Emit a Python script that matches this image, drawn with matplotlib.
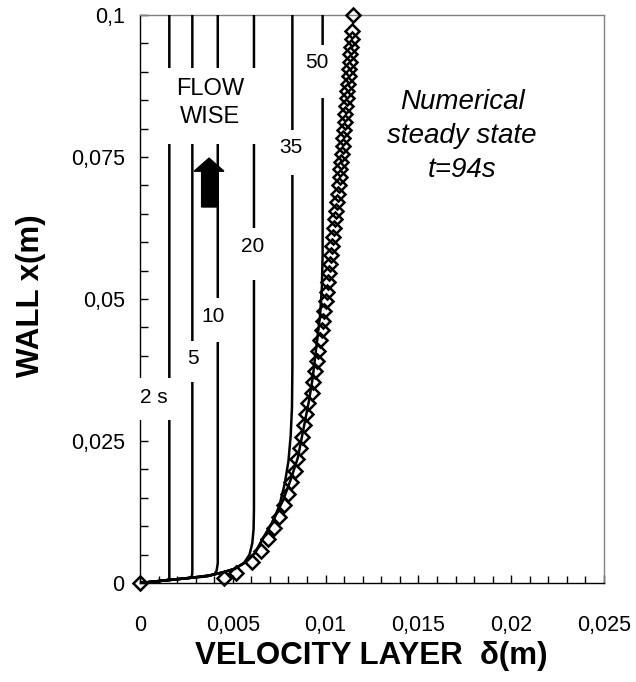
import matplotlib
matplotlib.use("Agg")
import matplotlib.pyplot as plt
from matplotlib.patches import Rectangle
from matplotlib.ticker import MultipleLocator, FixedLocator

plt.rcParams['font.family'] = ['Liberation Sans', 'DejaVu Sans']

# ---- data (delta in m, x along wall in m) ----
t2_delta = [0, 0.0013, 0.00152, 0.00158, 0.00158]
t2_x = [0, 0.00043, 0.0006, 0.0009, 0.1]

t5_delta = [0, 0.0026, 0.00274, 0.0028, 0.00282, 0.00282]
t5_x = [0, 0.00087, 0.001, 0.0013, 0.002, 0.1]

t10_delta = [0, 0.0027, 0.0036, 0.0040, 0.00413, 0.00419, 0.00419]
t10_x = [0, 0.0009, 0.00115, 0.0015, 0.0022, 0.0035, 0.1]

t20_delta = [0, 0.0027, 0.0037, 0.0045, 0.0051, 0.0056, 0.0059, 0.00605, 0.00612, 0.00614, 0.00614]
t20_x = [0, 0.0009, 0.0013, 0.0019, 0.0025, 0.0035, 0.0050, 0.0070, 0.0095, 0.013, 0.1]

t35_delta = [0, 0.0027, 0.0037, 0.0045, 0.0051, 0.0057, 0.0062, 0.0066, 0.0071,
             0.0075, 0.0078, 0.0080, 0.00812, 0.00819, 0.00821, 0.00821]
t35_x = [0, 0.0009, 0.0013, 0.0019, 0.0025, 0.0037, 0.0053, 0.0077, 0.0105,
         0.0135, 0.0175, 0.0215, 0.026, 0.031, 0.038, 0.1]

t50_delta = [0, 0.0027, 0.0037, 0.0045, 0.0051, 0.0057, 0.0062, 0.0066, 0.0071, 0.0077,
             0.0081, 0.0085, 0.0088, 0.0091, 0.0093, 0.0095, 0.0097, 0.0098, 0.00984, 0.00984]
t50_x = [0, 0.0009, 0.0013, 0.0019, 0.0025, 0.0037, 0.0053, 0.0077, 0.0105, 0.0145,
         0.018, 0.022, 0.027, 0.032, 0.036, 0.0415, 0.047, 0.052, 0.058, 0.1]

steady_delta = [0, 0.00454, 0.00517, 0.00602, 0.00652, 0.00688, 0.00722, 0.00751, 0.00776,
                0.00797, 0.00815, 0.00834, 0.00848, 0.00860, 0.00871, 0.00882, 0.00894,
                0.00907, 0.009241, 0.009343, 0.009441, 0.009531, 0.009617, 0.009700,
                0.009781, 0.009854, 0.009925, 0.009996, 0.010063, 0.010129, 0.010189,
                0.010248, 0.010306, 0.010362, 0.010418, 0.010469, 0.010518, 0.010567,
                0.010615, 0.010662, 0.010708, 0.010750, 0.010792, 0.010834, 0.010875,
                0.010914, 0.010954, 0.010993, 0.011031, 0.011069, 0.011106, 0.011140,
                0.011174, 0.011207, 0.011240, 0.011272, 0.011304, 0.011336, 0.011367,
                0.011399, 0.011432, 0.011500]
steady_x = [0, 0.00083, 0.00181, 0.00375, 0.00569, 0.00769, 0.00963, 0.01167, 0.01368,
            0.01567, 0.01773, 0.01972, 0.02178, 0.02371, 0.02576, 0.02782, 0.02975,
            0.03164, 0.0335, 0.0354, 0.0373, 0.0391, 0.0409, 0.0427, 0.0445, 0.0462,
            0.0479, 0.0496, 0.0513, 0.0530, 0.0546, 0.0562, 0.0578, 0.0594, 0.0610,
            0.0625, 0.0640, 0.0655, 0.0670, 0.0685, 0.0700, 0.0714, 0.0728, 0.0742,
            0.0756, 0.0770, 0.0784, 0.0798, 0.0812, 0.0826, 0.0840, 0.0853, 0.0866,
            0.0879, 0.0892, 0.0905, 0.0918, 0.0931, 0.0944, 0.0957, 0.0971, 0.1000]

time_labels = ['2 s', '5', '10', '20', '35', '50']
xtick_vals = [0, 0.005, 0.01, 0.015, 0.02, 0.025]
xtick_labels = ['0', '0,005', '0,01', '0,015', '0,02', '0,025']
ytick_vals = [0, 0.025, 0.05, 0.075, 0.1]
ytick_labels = ['0', '0,025', '0,05', '0,075', '0,1']

W, H = 636, 682
fig = plt.figure(figsize=(W / 100, H / 100), dpi=100)
ax = fig.add_axes([140 / W, 1 - 583 / H, 464 / W, 568 / H])
ax.set_xlim(0, 0.025)
ax.set_ylim(0, 0.1)

lw = 1.8
for d, x in [(t2_delta, t2_x), (t5_delta, t5_x), (t10_delta, t10_x),
             (t20_delta, t20_x), (t35_delta, t35_x), (t50_delta, t50_x)]:
    ax.plot(d, x, color='black', lw=lw, zorder=3, solid_joinstyle='round')

ax.plot(steady_delta, steady_x, linestyle='none', marker='D', markersize=7.5,
        markerfacecolor='none', markeredgecolor='black', markeredgewidth=1.8,
        zorder=4, clip_on=False)

# white label boxes (interrupt lines) - data coords
boxes = [
    (-0.00032, 0.0287, 0.00215, 0.0074),
    (0.00226, 0.0354, 0.00119, 0.0072),
    (0.00323, 0.0424, 0.00162, 0.0078),
    (0.00539, 0.0533, 0.00151, 0.0092),
    (0.00744, 0.0718, 0.00150, 0.0080),
    (0.00900, 0.0854, 0.00140, 0.0093),
    (0.00097, 0.0773, 0.00571, 0.0134),
]
for bx, by, bw, bh in boxes:
    ax.add_patch(Rectangle((bx, by), bw, bh, facecolor='white', edgecolor='none',
                           zorder=5, clip_on=False))

label_pos = [(0.00075, 0.0327), (0.00286, 0.0396), (0.00393, 0.0470),
             (0.00609, 0.0593), (0.00814, 0.0766), (0.00954, 0.0917)]
for lab, (lx, ly) in zip(time_labels, label_pos):
    ax.text(lx, ly, lab, fontsize=15, ha='center', va='center', zorder=6)

ax.text(0.00377, 0.0845, 'FLOW\nWISE', fontsize=17, ha='center', va='center',
        linespacing=1.3, zorder=6)
ax.arrow(0.00372, 0.0662, 0, 0.0086, width=0.0008, head_width=0.0016,
         head_length=0.0023, length_includes_head=True, color='black', zorder=6)

ax.text(0.01735, 0.0787, 'Numerical\nsteady state\nt=94s', fontsize=20,
        style='italic', ha='center', va='center', linespacing=1.4, zorder=6)

# spines
for s in ['left', 'bottom']:
    ax.spines[s].set_color('black')
    ax.spines[s].set_linewidth(1.0)
for s in ['top', 'right']:
    ax.spines[s].set_color('#808080')
    ax.spines[s].set_linewidth(1.0)

ax.xaxis.set_major_locator(FixedLocator(xtick_vals))
ax.set_xticklabels(xtick_labels)
ax.xaxis.set_minor_locator(MultipleLocator(0.001))
ax.yaxis.set_major_locator(FixedLocator(ytick_vals))
ax.set_yticklabels(ytick_labels)
ax.yaxis.set_minor_locator(MultipleLocator(0.005))
ax.tick_params(which='both', direction='in', top=False, right=False, color='black')
ax.tick_params(axis='x', which='major', length=6, width=1, pad=23, labelsize=15.5)
ax.tick_params(axis='x', which='minor', length=5, width=1)
ax.tick_params(axis='y', which='major', length=6, width=1, pad=11, labelsize=15.5)
ax.tick_params(axis='y', which='minor', length=6, width=1)

ax.set_xlabel('VELOCITY LAYER  δ(m)', fontsize=22.5, fontweight='bold')
ax.set_ylabel('WALL x(m)', fontsize=22.5, fontweight='bold')
ax.xaxis.set_label_coords((371 - 140) / 464, (583 - 641) / 568)
ax.yaxis.set_label_coords((46 - 140) / 464, (583 - 296) / 568)

fig.savefig('out.png', dpi=100)
